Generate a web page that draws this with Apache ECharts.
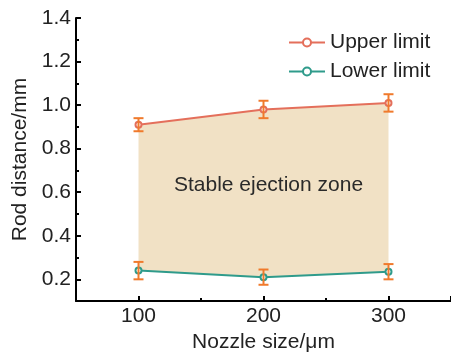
<!DOCTYPE html>
<html>
<head>
<meta charset="utf-8">
<script src="https://cdn.jsdelivr.net/npm/echarts@6/dist/echarts.min.js"></script>
<style>html,body{margin:0;padding:0;background:#fff}#c{width:451px;height:358px}</style>
</head>
<body>
<div id="c"></div>
<script>
const nozzleSizes = [100, 200, 300];
const upperLimit = [0.91, 0.98, 1.01];
const upperErr = [0.03, 0.04, 0.04];
const lowerLimit = [0.24, 0.21, 0.235];
const lowerErr = [0.04, 0.035, 0.035];
const zoneLabel = 'Stable ejection zone';
const zoneLabelPos = [204, 0.633];

const FONT = '"Liberation Sans", Arial, sans-serif';
const FS = 21;
const TXT = '#222';
const chart = echarts.init(document.getElementById('c'), null, {renderer: 'canvas'});

const upperPts = nozzleSizes.map((x, i) => [x, upperLimit[i]]);
const lowerPts = nozzleSizes.map((x, i) => [x, lowerLimit[i]]);
const errData = nozzleSizes.map((x, i) => [x, upperLimit[i], upperErr[i]])
  .concat(nozzleSizes.map((x, i) => [x, lowerLimit[i], lowerErr[i]]));

const option = {
  animation: false,
  grid: {left: 76, top: 18, width: 380, height: 291, containLabel: false},
  legend: {
    top: 27, left: 283, orient: 'vertical', itemGap: 8, itemWidth: 36, itemHeight: 10,
    textStyle: {fontFamily: FONT, fontSize: FS, color: TXT, padding: [0, 0, 0, 0]},
    data: ['Upper limit', 'Lower limit']
  },
  xAxis: {
    type: 'value', min: 50, max: 350, splitNumber: 3,
    name: 'Nozzle size/μm', nameLocation: 'middle', nameGap: 25,
    nameTextStyle: {fontFamily: FONT, fontSize: FS, color: TXT, verticalAlign: 'top'},
    axisLine: {onZero: false, lineStyle: {color: '#000', width: 2}},
    axisTick: {inside: true, length: 5, lineStyle: {color: '#000', width: 2}},
    minorTick: {show: true, splitNumber: 2, length: 3, lineStyle: {color: '#000', width: 2}},
    axisLabel: {fontFamily: FONT, fontSize: FS, color: TXT, margin: 5, showMinLabel: false, showMaxLabel: false},
    splitLine: {show: false}
  },
  yAxis: {
    type: 'value', min: 0.1, max: 1.4, splitNumber: 7,
    name: 'Rod distance/mm', nameLocation: 'middle', nameGap: 42,
    nameTextStyle: {fontFamily: FONT, fontSize: FS, color: TXT},
    axisLine: {onZero: false, lineStyle: {color: '#000', width: 2}},
    axisTick: {inside: true, length: 5, lineStyle: {color: '#000', width: 2}},
    minorTick: {show: true, splitNumber: 2, length: 3, lineStyle: {color: '#000', width: 2}},
    axisLabel: {fontFamily: FONT, fontSize: FS, color: TXT, margin: 5, showMinLabel: false,
      formatter: v => v.toFixed(1)},
    splitLine: {show: false}
  },
  series: [
    {
      type: 'custom', name: 'zone', silent: true, z: 1,
      data: [[0]],
      renderItem: (params, api) => {
        const pts = upperPts.map(p => api.coord(p)).concat(lowerPts.slice().reverse().map(p => api.coord(p)));
        const tp = api.coord(zoneLabelPos);
        return {type: 'group', children: [
          {type: 'polygon', shape: {points: pts}, style: {fill: '#f1e1c5'}},
          {type: 'text', x: tp[0], y: tp[1], style: {text: zoneLabel, fill: '#2a2a2a', font: FS + 'px ' + FONT, align: 'center', verticalAlign: 'middle'}}
        ]};
      }
    },
    {
      type: 'line', name: 'Upper limit', data: upperPts, z: 3,
      symbol: 'emptyCircle', symbolSize: 6,
      lineStyle: {color: '#e46f5b', width: 2},
      itemStyle: {color: '#e46f5b', borderColor: '#e46f5b', borderWidth: 3.5}
    },
    {
      type: 'line', name: 'Lower limit', data: lowerPts, z: 3,
      symbol: 'emptyCircle', symbolSize: 6,
      lineStyle: {color: '#2f9b8b', width: 2},
      itemStyle: {color: '#2f9b8b', borderColor: '#2f9b8b', borderWidth: 3.5}
    },
    {
      type: 'custom', name: 'err', silent: true, z: 4,
      data: errData,
      renderItem: (params, api) => {
        const x = api.value(0), y = api.value(1), e = api.value(2);
        const top = api.coord([x, y + e]);
        const bot = api.coord([x, y - e]);
        const w = 5;
        const st = {stroke: '#f07a2c', lineWidth: 2};
        return {type: 'group', children: [
          {type: 'line', shape: {x1: top[0], y1: top[1], x2: bot[0], y2: bot[1]}, style: st},
          {type: 'line', shape: {x1: top[0] - w, y1: top[1], x2: top[0] + w, y2: top[1]}, style: st},
          {type: 'line', shape: {x1: bot[0] - w, y1: bot[1], x2: bot[0] + w, y2: bot[1]}, style: st}
        ]};
      }
    }
  ]
};
chart.setOption(option);
</script>
</body>
</html>
